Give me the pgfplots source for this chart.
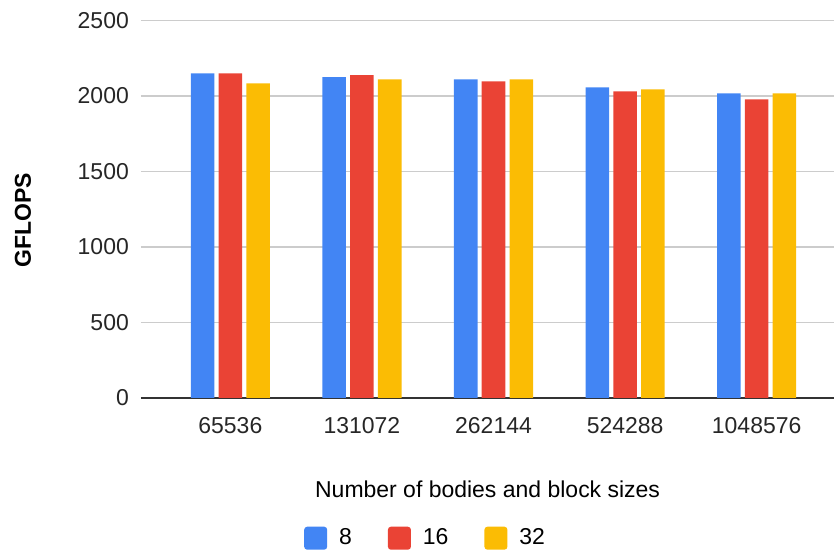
\documentclass[border=0pt]{standalone}
\usepackage{pgfplots}
\pgfplotsset{compat=1.18}
\usepackage{fontspec}
\setmainfont{Liberation Sans}
\definecolor{gblue}{HTML}{4285F4}
\definecolor{gred}{HTML}{EA4335}
\definecolor{gyellow}{HTML}{FBBC04}
\definecolor{gridgray}{HTML}{CCCCCC}
\begin{document}
\begin{tikzpicture}
\begin{axis}[
    scale only axis,
    width=347pt, height=188.8pt,
    ybar=2.1pt, bar width=11.8pt,
    xmin=-0.68, xmax=4.59,
    ymin=0, ymax=2500,
    ytick={0,500,1000,1500,2000,2500},
    xtick={0,1,2,3,4},
    xticklabels={65536,131072,262144,524288,1048576},
    axis line style={draw=none},
    tick style={draw=none},
    ymajorgrids,
    grid style={gridgray, line width=0.6pt},
    extra y ticks={0},
    extra y tick labels={},
    extra y tick style={grid style={black!80, line width=0.7pt}},
    /pgf/number format/assume math mode=true,
    /pgf/number format/set thousands separator={},
    ticklabel style={font=\fontsize{11.5}{14}\selectfont, text=black!85},
    yticklabel style={xshift=-2.5pt},
    xticklabel style={yshift=-1.8pt},
    xlabel={Number of bodies and block sizes},
    xlabel style={font=\fontsize{11.5}{14}\selectfont, at={(axis description cs:0.5,-0.243)}, anchor=center},
    ylabel={\textbf{GFLOPS}},
    ylabel style={font=\fontsize{11.5}{14}\selectfont, at={(axis description cs:-0.17,0.47)}, anchor=center, rotate=0},
    legend columns=-1,
    legend style={draw=none, font=\fontsize{11.5}{14}\selectfont,
        at={(axis description cs:0.412,-0.372)}, anchor=center,
        /tikz/every odd column/.append style={column sep=4pt},
        /tikz/every even column/.append style={column sep=16pt}},
    legend image code/.code={\fill[#1, rounded corners=1.5pt] (0pt,-5.75pt) rectangle (11.5pt,5.75pt);},
]
\addplot[fill=gblue, draw=none] coordinates {(0,2150) (1,2126) (2,2111) (3,2058) (4,2018)};
\addplot[fill=gred, draw=none] coordinates {(0,2150) (1,2139) (2,2097) (3,2031) (4,1978)};
\addplot[fill=gyellow, draw=none] coordinates {(0,2084) (1,2111) (2,2111) (3,2044) (4,2018)};
\legend{8,16,32}
\end{axis}
\path ([yshift=10.3pt]current axis.north) ([xshift=-70.5pt]current axis.west);
\end{tikzpicture}
\end{document}
